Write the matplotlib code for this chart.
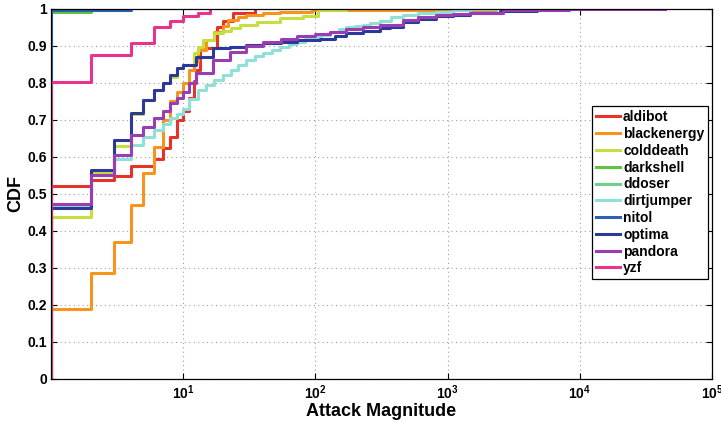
import matplotlib
matplotlib.use("Agg")
import matplotlib.pyplot as plt
from matplotlib.ticker import FixedLocator, NullLocator

plt.rcParams["font.family"] = ["Liberation Sans", "DejaVu Sans"]
plt.rcParams["font.weight"] = "bold"
plt.rcParams["mathtext.fontset"] = "custom"
plt.rcParams["mathtext.rm"] = "Liberation Sans:bold"
plt.rcParams["mathtext.bf"] = "Liberation Sans:bold"

# step CDFs: (attack magnitude, CDF)
aldibot_x = [1, 2, 3, 4, 6, 7, 8, 9, 10, 11, 12, 12.6, 13.5, 14.6, 17.9, 20, 23.7, 34.8]
aldibot_y = [0.522, 0.537, 0.548, 0.575, 0.595, 0.625, 0.655, 0.70, 0.725, 0.76,
             0.805, 0.835, 0.889, 0.894, 0.952, 0.968, 0.99, 1.0]

blackenergy_x = [1, 2, 3, 4, 5, 6, 7, 8, 9, 10, 11, 12, 13, 15, 17, 20, 22, 26, 30,
                 40, 54, 95, 300, 2330]
blackenergy_y = [0.19, 0.287, 0.369, 0.47, 0.558, 0.628, 0.70, 0.75, 0.775, 0.80,
                 0.835, 0.86, 0.89, 0.915, 0.939, 0.955, 0.97, 0.978, 0.984, 0.99,
                 0.993, 0.997, 0.998, 1.0]

colddeath_x = [1, 2, 3, 4, 5, 6, 7, 8, 9, 10, 12, 13, 14, 17, 20, 23, 27, 36, 54,
               80, 104, 171]
colddeath_y = [0.437, 0.56, 0.63, 0.715, 0.755, 0.78, 0.80, 0.815, 0.84, 0.849,
               0.88, 0.898, 0.916, 0.935, 0.94, 0.948, 0.957, 0.966, 0.975, 0.98,
               0.997, 1.0]

darkshell_x = [1, 2]
darkshell_y = [0.993, 1.0]

ddoser_x = [1]
ddoser_y = [1.0]

dirtjumper_x = [1, 2, 3, 4, 5, 6, 7, 8, 9, 10, 11, 13, 15, 17, 20, 23, 26, 30, 35,
                40, 47, 54, 63, 72, 83, 95, 110, 128, 150, 171, 200, 228, 258, 308,
                370, 459, 600, 821, 1100, 1470, 2330]
dirtjumper_y = [0.465, 0.55, 0.594, 0.632, 0.655, 0.673, 0.69, 0.705, 0.715, 0.73,
                0.758, 0.78, 0.795, 0.808, 0.822, 0.835, 0.848, 0.862, 0.872, 0.88,
                0.89, 0.898, 0.905, 0.912, 0.918, 0.923, 0.931, 0.939, 0.945, 0.95,
                0.954, 0.957, 0.963, 0.968, 0.977, 0.984, 0.989, 0.993, 0.996,
                0.999, 1.0]

nitol_x = [1, 4]
nitol_y = [0.998, 1.0]

optima_x = [1, 2, 3, 4, 5, 6, 7, 8, 9, 10, 12.6, 16.8, 22.5, 30, 40, 55, 72, 108,
            140, 171, 230, 308, 367, 459, 600, 821, 1100, 1470, 2500, 4700]
optima_y = [0.462, 0.565, 0.646, 0.718, 0.754, 0.781, 0.80, 0.822, 0.84, 0.849,
            0.871, 0.894, 0.898, 0.902, 0.907, 0.912, 0.916, 0.92, 0.927, 0.934,
            0.94, 0.948, 0.952, 0.966, 0.973, 0.98, 0.985, 0.99, 0.995, 1.0]

pandora_x = [1, 2, 3, 4, 5, 6, 7, 8, 9, 10, 11, 12.6, 16.8, 22.5, 30, 40, 55, 72,
             100, 128, 170, 228, 308, 459, 600, 821, 1100, 1470, 2600, 5000, 8300,
             44000]
pandora_y = [0.472, 0.551, 0.605, 0.66, 0.68, 0.705, 0.725, 0.745, 0.76, 0.775, 0.80,
             0.826, 0.862, 0.885, 0.90, 0.912, 0.92, 0.927, 0.933, 0.939, 0.946,
             0.952, 0.957, 0.97, 0.977, 0.984, 0.987, 0.99, 0.997, 0.998, 0.999, 1.0]

yzf_x = [1, 2, 4, 6, 8, 10, 13, 16]
yzf_y = [0.803, 0.875, 0.908, 0.95, 0.968, 0.982, 0.99, 1.0]

series = [
    ("aldibot", aldibot_x, aldibot_y, "#e63228"),
    ("blackenergy", blackenergy_x, blackenergy_y, "#f7941e"),
    ("colddeath", colddeath_x, colddeath_y, "#c6df3e"),
    ("darkshell", darkshell_x, darkshell_y, "#5ec440"),
    ("ddoser", ddoser_x, ddoser_y, "#6dd18a"),
    ("dirtjumper", dirtjumper_x, dirtjumper_y, "#8fe0d9"),
    ("nitol", nitol_x, nitol_y, "#2c60b5"),
    ("optima", optima_x, optima_y, "#2b3a99"),
    ("pandora", pandora_x, pandora_y, "#9a3db5"),
    ("yzf", yzf_x, yzf_y, "#e8358b"),
]

x_ticks = [10, 100, 1000, 10000, 100000]
x_ticklabels = [r"$10^{1}$", r"$10^{2}$", r"$10^{3}$", r"$10^{4}$", r"$10^{5}$"]
y_ticks = [0, 0.1, 0.2, 0.3, 0.4, 0.5, 0.6, 0.7, 0.8, 0.9, 1]
y_ticklabels = ["0", "0.1", "0.2", "0.3", "0.4", "0.5", "0.6", "0.7", "0.8", "0.9", "1"]

fig = plt.figure(figsize=(7.21, 4.22), dpi=100)
ax = fig.add_axes([0.0707, 0.1019, 0.917, 0.8768])

for name, xs, ys, color in series:
    # start at zero at the smallest magnitude, like a stairs CDF
    px = [xs[0]] + list(xs)
    py = [0.0] + list(ys)
    ax.step(px, py, where="post", color=color, lw=2.2, label=name)

ax.set_xscale("log")
ax.set_xlim(1, 1e5)
ax.set_ylim(0, 1)
ax.xaxis.set_major_locator(FixedLocator(x_ticks))
ax.xaxis.set_minor_locator(NullLocator())
ax.set_xticklabels(x_ticklabels)
ax.set_yticks(y_ticks)
ax.set_yticklabels(y_ticklabels)
ax.tick_params(direction="in", top=True, right=True, labelsize=10, length=4,
               width=0.8, pad=3)
for lab in ax.get_yticklabels() + ax.get_xticklabels():
    lab.set_fontweight("bold")

ax.grid(True, which="major", linestyle=(0, (1, 3)), color="#a0a0a0", lw=0.8)
for sp in ax.spines.values():
    sp.set_linewidth(0.9)

ax.set_xlabel("Attack Magnitude", fontsize=13, fontweight="bold", labelpad=1)
ax.set_ylabel("CDF", fontsize=13, fontweight="bold", labelpad=2)

leg = ax.legend(loc="upper right", bbox_to_anchor=(0.9945, 0.7375), fontsize=10,
                frameon=True, fancybox=False, framealpha=1, edgecolor="black",
                handlelength=1.7, handletextpad=0.25, borderpad=0.3,
                labelspacing=0.2, borderaxespad=0)
leg.get_frame().set_linewidth(0.9)
for t in leg.get_texts():
    t.set_fontweight("bold")

fig.savefig("out.png", dpi=100)
